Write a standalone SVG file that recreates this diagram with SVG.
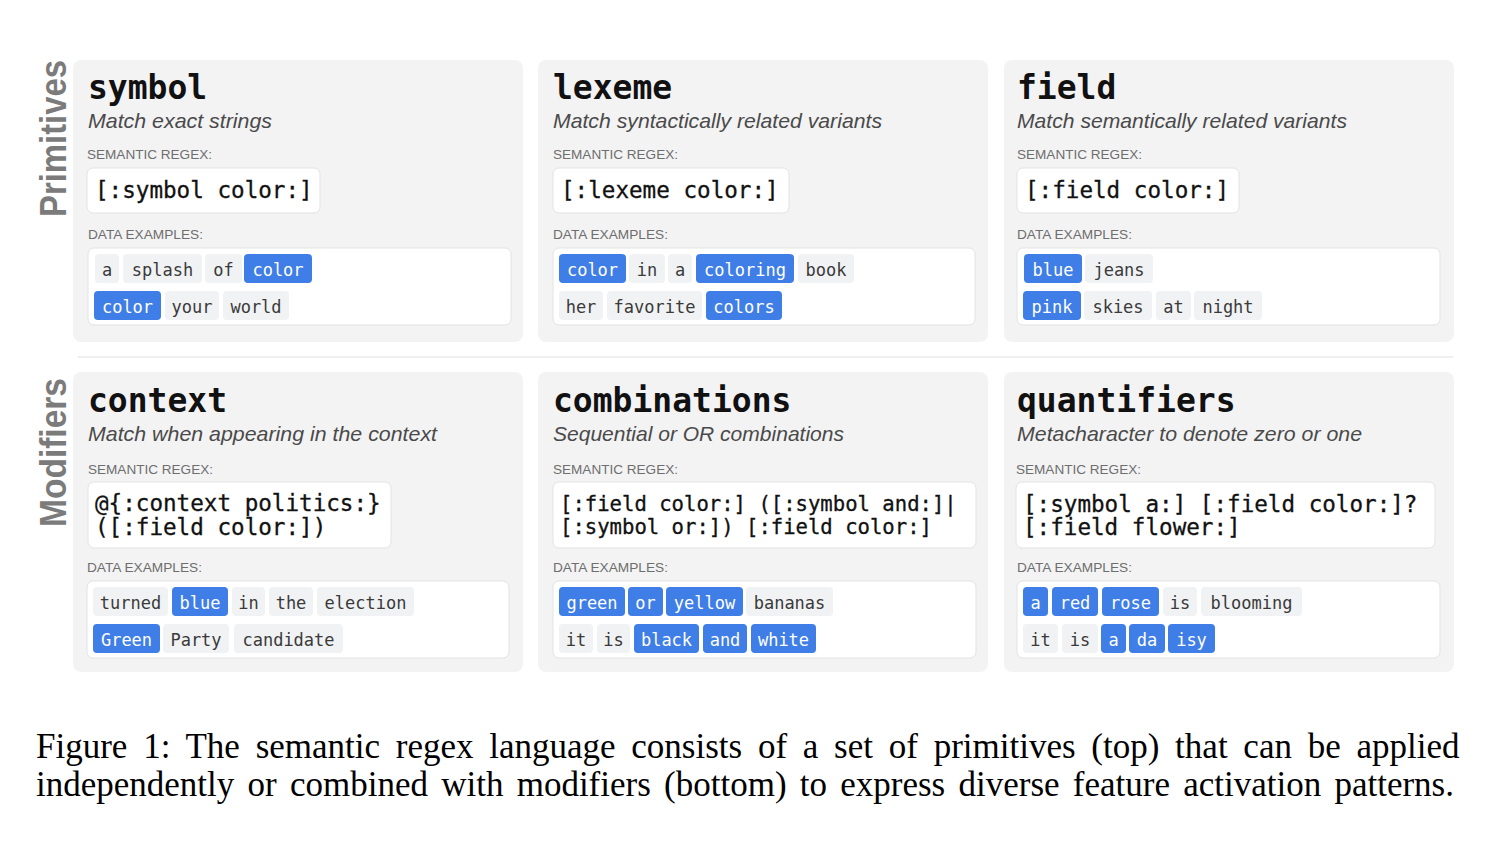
<svg xmlns="http://www.w3.org/2000/svg" width="1506" height="844" viewBox="0 0 1506 844">
<style>
.bg{fill:#ffffff}
.panel{fill:#f3f3f4}
.box{fill:#ffffff;stroke:#e3e3e6;stroke-width:1}
.title{font-family:"DejaVu Sans Mono","Liberation Mono",monospace;font-weight:bold;font-size:33px;fill:#111}
.sub{font-family:"Liberation Sans",Arial,sans-serif;font-style:italic;font-size:21px;fill:#4a4a4a}
.lab{font-family:"Liberation Sans",Arial,sans-serif;font-size:13.5px;fill:#6e6e6e}
.rx{font-family:"DejaVu Sans Mono","Liberation Mono",monospace;font-size:22.6px;fill:#111;stroke:#111;stroke-width:0.3}
.rxs{font-size:20.6px}
.tg{fill:#f1f2f4}
.tb{fill:#3e7ee6}
.tt{font-family:"DejaVu Sans Mono","Liberation Mono",monospace;font-size:17px;text-anchor:middle;fill:#3a3a3a}
.tw{font-family:"DejaVu Sans Mono","Liberation Mono",monospace;font-size:17px;text-anchor:middle;fill:#ffffff}
.side{font-family:"Liberation Sans",Arial,sans-serif;font-weight:bold;font-size:36px;fill:#7b7b7b}
.cap{font-family:"Liberation Serif","Times New Roman",serif;font-size:35px;fill:#000}
</style>
<rect class="bg" x="0" y="0" width="1506" height="844"/>

<g id="side-labels">
<text class="side" transform="translate(66,217) rotate(-90)" textLength="157" lengthAdjust="spacingAndGlyphs">Primitives</text>
<text class="side" transform="translate(66,527) rotate(-90)" textLength="149" lengthAdjust="spacingAndGlyphs">Modifiers</text>
</g>

<line x1="78" y1="357" x2="1453" y2="357" stroke="#e0e0e0" stroke-width="1.2"/>

<g id="symbol">
<rect class="panel" x="73" y="60" width="450" height="282" rx="8"/>
<text class="title" x="88" y="99">symbol</text>
<text class="sub" x="88" y="128" textLength="184" lengthAdjust="spacingAndGlyphs">Match exact strings</text>
<text class="lab" x="87" y="159" textLength="125" lengthAdjust="spacingAndGlyphs">SEMANTIC REGEX:</text>
<rect class="box" x="87" y="168" width="233" height="45" rx="6"/>
<text class="rx" x="95" y="198">[:symbol color:]</text>
<text class="lab" x="88" y="239" textLength="115" lengthAdjust="spacingAndGlyphs">DATA EXAMPLES:</text>
<rect class="box" x="88" y="248" width="423" height="77" rx="6"/>
<rect class="tg" x="95" y="254" width="24" height="29" rx="4"/><text class="tt" x="107" y="276">a</text>
<rect class="tg" x="123" y="254" width="79" height="29" rx="4"/><text class="tt" x="162.5" y="276">splash</text>
<rect class="tg" x="205" y="254" width="37" height="29" rx="4"/><text class="tt" x="223.5" y="276">of</text>
<rect class="tb" x="244" y="254" width="68" height="29" rx="4"/><text class="tw" x="278" y="276">color</text>
<rect class="tb" x="94" y="291" width="67" height="29" rx="4"/><text class="tw" x="127.5" y="313">color</text>
<rect class="tg" x="165" y="291" width="54" height="29" rx="4"/><text class="tt" x="192" y="313">your</text>
<rect class="tg" x="223" y="291" width="66" height="29" rx="4"/><text class="tt" x="256" y="313">world</text>
</g>

<g id="lexeme">
<rect class="panel" x="538" y="60" width="450" height="282" rx="8"/>
<text class="title" x="553" y="99">lexeme</text>
<text class="sub" x="553" y="128" textLength="329" lengthAdjust="spacingAndGlyphs">Match syntactically related variants</text>
<text class="lab" x="553" y="159" textLength="125" lengthAdjust="spacingAndGlyphs">SEMANTIC REGEX:</text>
<rect class="box" x="553" y="168" width="236" height="45" rx="6"/>
<text class="rx" x="561" y="198">[:lexeme color:]</text>
<text class="lab" x="553" y="239" textLength="115" lengthAdjust="spacingAndGlyphs">DATA EXAMPLES:</text>
<rect class="box" x="553" y="248" width="422" height="77" rx="6"/>
<rect class="tb" x="559" y="254" width="67" height="29" rx="4"/><text class="tw" x="592.5" y="276">color</text>
<rect class="tg" x="629" y="254" width="36" height="29" rx="4"/><text class="tt" x="647" y="276">in</text>
<rect class="tg" x="668" y="254" width="24" height="29" rx="4"/><text class="tt" x="680" y="276">a</text>
<rect class="tb" x="696" y="254" width="98" height="29" rx="4"/><text class="tw" x="745" y="276">coloring</text>
<rect class="tg" x="798" y="254" width="56" height="29" rx="4"/><text class="tt" x="826" y="276">book</text>
<rect class="tg" x="559" y="291" width="44" height="29" rx="4"/><text class="tt" x="581" y="313">her</text>
<rect class="tg" x="607" y="291" width="95" height="29" rx="4"/><text class="tt" x="654.5" y="313">favorite</text>
<rect class="tb" x="706" y="291" width="76" height="29" rx="4"/><text class="tw" x="744" y="313">colors</text>
</g>

<g id="field">
<rect class="panel" x="1004" y="60" width="450" height="282" rx="8"/>
<text class="title" x="1017" y="99">field</text>
<text class="sub" x="1017" y="128" textLength="330" lengthAdjust="spacingAndGlyphs">Match semantically related variants</text>
<text class="lab" x="1017" y="159" textLength="125" lengthAdjust="spacingAndGlyphs">SEMANTIC REGEX:</text>
<rect class="box" x="1017" y="168" width="222" height="45" rx="6"/>
<text class="rx" x="1025" y="198">[:field color:]</text>
<text class="lab" x="1017" y="239" textLength="115" lengthAdjust="spacingAndGlyphs">DATA EXAMPLES:</text>
<rect class="box" x="1017" y="248" width="423" height="77" rx="6"/>
<rect class="tb" x="1024" y="254" width="58" height="29" rx="4"/><text class="tw" x="1053" y="276">blue</text>
<rect class="tg" x="1085" y="254" width="68" height="29" rx="4"/><text class="tt" x="1119" y="276">jeans</text>
<rect class="tb" x="1023" y="291" width="58" height="29" rx="4"/><text class="tw" x="1052" y="313">pink</text>
<rect class="tg" x="1084" y="291" width="68" height="29" rx="4"/><text class="tt" x="1118" y="313">skies</text>
<rect class="tg" x="1156" y="291" width="35" height="29" rx="4"/><text class="tt" x="1173.5" y="313">at</text>
<rect class="tg" x="1194" y="291" width="68" height="29" rx="4"/><text class="tt" x="1228" y="313">night</text>
</g>

<g id="context">
<rect class="panel" x="73" y="372" width="450" height="300" rx="8"/>
<text class="title" x="88" y="412">context</text>
<text class="sub" x="88" y="441" textLength="349" lengthAdjust="spacingAndGlyphs">Match when appearing in the context</text>
<text class="lab" x="88" y="474" textLength="125" lengthAdjust="spacingAndGlyphs">SEMANTIC REGEX:</text>
<rect class="box" x="88" y="482" width="303" height="66" rx="6"/>
<text class="rx" x="95" y="511">@{:context politics:}</text>
<text class="rx" x="95" y="535">([:field color:])</text>
<text class="lab" x="87" y="572" textLength="115" lengthAdjust="spacingAndGlyphs">DATA EXAMPLES:</text>
<rect class="box" x="87" y="581" width="422" height="77" rx="6"/>
<rect class="tg" x="93" y="587" width="75" height="29" rx="4"/><text class="tt" x="130.5" y="609">turned</text>
<rect class="tb" x="172" y="587" width="56" height="29" rx="4"/><text class="tw" x="200" y="609">blue</text>
<rect class="tg" x="232" y="587" width="33" height="29" rx="4"/><text class="tt" x="248.5" y="609">in</text>
<rect class="tg" x="269" y="587" width="44" height="29" rx="4"/><text class="tt" x="291" y="609">the</text>
<rect class="tg" x="317" y="587" width="97" height="29" rx="4"/><text class="tt" x="365.5" y="609">election</text>
<rect class="tb" x="93" y="624" width="67" height="29" rx="4"/><text class="tw" x="126.5" y="646">Green</text>
<rect class="tg" x="163" y="624" width="66" height="29" rx="4"/><text class="tt" x="196" y="646">Party</text>
<rect class="tg" x="234" y="624" width="109" height="29" rx="4"/><text class="tt" x="288.5" y="646">candidate</text>
</g>

<g id="combinations">
<rect class="panel" x="538" y="372" width="450" height="300" rx="8"/>
<text class="title" x="553" y="412">combinations</text>
<text class="sub" x="553" y="441" textLength="291" lengthAdjust="spacingAndGlyphs">Sequential or OR combinations</text>
<text class="lab" x="553" y="474" textLength="125" lengthAdjust="spacingAndGlyphs">SEMANTIC REGEX:</text>
<rect class="box" x="553" y="482" width="423" height="66" rx="6"/>
<text class="rx rxs" x="560" y="511">[:field color:] ([:symbol and:]|</text>
<text class="rx rxs" x="560" y="534">[:symbol or:]) [:field color:]</text>
<text class="lab" x="553" y="572" textLength="115" lengthAdjust="spacingAndGlyphs">DATA EXAMPLES:</text>
<rect class="box" x="553" y="581" width="423" height="77" rx="6"/>
<rect class="tb" x="559" y="587" width="66" height="29" rx="4"/><text class="tw" x="592" y="609">green</text>
<rect class="tb" x="628" y="587" width="35" height="29" rx="4"/><text class="tw" x="645.5" y="609">or</text>
<rect class="tb" x="666" y="587" width="77" height="29" rx="4"/><text class="tw" x="704.5" y="609">yellow</text>
<rect class="tg" x="746" y="587" width="87" height="29" rx="4"/><text class="tt" x="789.5" y="609">bananas</text>
<rect class="tg" x="559" y="624" width="34" height="29" rx="4"/><text class="tt" x="576" y="646">it</text>
<rect class="tg" x="597" y="624" width="33" height="29" rx="4"/><text class="tt" x="613.5" y="646">is</text>
<rect class="tb" x="634" y="624" width="65" height="29" rx="4"/><text class="tw" x="666.5" y="646">black</text>
<rect class="tb" x="703" y="624" width="44" height="29" rx="4"/><text class="tw" x="725" y="646">and</text>
<rect class="tb" x="751" y="624" width="65" height="29" rx="4"/><text class="tw" x="783.5" y="646">white</text>
</g>

<g id="quantifiers">
<rect class="panel" x="1004" y="372" width="450" height="300" rx="8"/>
<text class="title" x="1017" y="412">quantifiers</text>
<text class="sub" x="1017" y="441" textLength="345" lengthAdjust="spacingAndGlyphs">Metacharacter to denote zero or one</text>
<text class="lab" x="1016" y="474" textLength="125" lengthAdjust="spacingAndGlyphs">SEMANTIC REGEX:</text>
<rect class="box" x="1016" y="482" width="419" height="66" rx="6"/>
<text class="rx" x="1023" y="512">[:symbol a:] [:field color:]?</text>
<text class="rx" x="1023" y="535">[:field flower:]</text>
<text class="lab" x="1017" y="572" textLength="115" lengthAdjust="spacingAndGlyphs">DATA EXAMPLES:</text>
<rect class="box" x="1017" y="581" width="423" height="77" rx="6"/>
<rect class="tb" x="1023" y="587" width="25" height="29" rx="4"/><text class="tw" x="1035.5" y="609">a</text>
<rect class="tb" x="1052" y="587" width="46" height="29" rx="4"/><text class="tw" x="1075" y="609">red</text>
<rect class="tb" x="1102" y="587" width="57" height="29" rx="4"/><text class="tw" x="1130.5" y="609">rose</text>
<rect class="tg" x="1163" y="587" width="34" height="29" rx="4"/><text class="tt" x="1180" y="609">is</text>
<rect class="tg" x="1201" y="587" width="101" height="29" rx="4"/><text class="tt" x="1251.5" y="609">blooming</text>
<rect class="tg" x="1023" y="624" width="35" height="29" rx="4"/><text class="tt" x="1040.5" y="646">it</text>
<rect class="tg" x="1062" y="624" width="36" height="29" rx="4"/><text class="tt" x="1080" y="646">is</text>
<rect class="tb" x="1101" y="624" width="25" height="29" rx="4"/><text class="tw" x="1113.5" y="646">a</text>
<rect class="tb" x="1129" y="624" width="36" height="29" rx="4"/><text class="tw" x="1147" y="646">da</text>
<rect class="tb" x="1168" y="624" width="47" height="29" rx="4"/><text class="tw" x="1191.5" y="646">isy</text>
</g>

<g id="caption">
<text class="cap" x="36" y="758" word-spacing="7">Figure 1: The semantic regex language consists of a set of primitives (top) that can be applied</text>
<text class="cap" x="36" y="796" word-spacing="4.5">independently or combined with modifiers (bottom) to express diverse feature activation patterns.</text>
</g>
</svg>
